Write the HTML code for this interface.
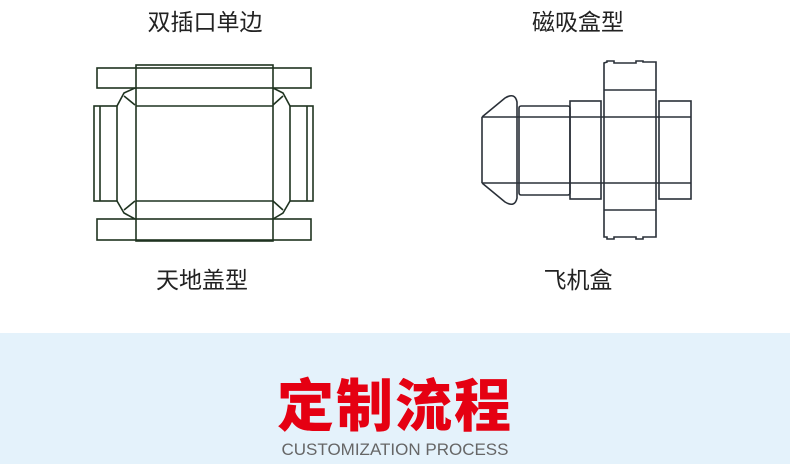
<!DOCTYPE html>
<html><head><meta charset="utf-8"><style>
html,body{margin:0;padding:0}
body{width:790px;height:464px;position:relative;background:#fff;overflow:hidden;font-family:"Liberation Sans","Noto Sans CJK SC",sans-serif}
.l{position:absolute;font-size:23px;color:#222;text-align:center;width:240px;line-height:26px}
.band{position:absolute;left:0;top:333px;width:790px;height:131px;background:#e4f2fb}
.t{position:absolute;left:0;width:790px;text-align:center;top:369px;font-size:57px;font-weight:900;color:#e50012;line-height:66px;letter-spacing:2px;font-family:"Noto Sans CJK SC",sans-serif}
.s{position:absolute;left:0;width:790px;text-align:center;top:440px;font-size:17px;color:#666;line-height:20px}
svg{position:absolute;left:0;top:0}
</style></head><body>
<div class="l" style="left:85px;top:9px">双插口单边</div>
<div class="l" style="left:458px;top:9px">磁吸盒型</div>
<div class="l" style="left:82px;top:267px">天地盖型</div>
<div class="l" style="left:458px;top:267px">飞机盒</div>
<svg width="790" height="333" fill="none" stroke-width="1.6">
<g stroke="#1f3320">
<rect x="97" y="68" width="214" height="20"/>
<rect x="97" y="219" width="214" height="21"/>
<rect x="136" y="65" width="137" height="176"/>
<line x1="136" y1="106" x2="273" y2="106"/>
<line x1="136" y1="201" x2="273" y2="201"/>
<rect x="94" y="106" width="23" height="95"/>
<line x1="100" y1="106" x2="100" y2="201"/>
<rect x="290" y="106" width="23" height="95"/>
<line x1="307" y1="106" x2="307" y2="201"/>
<polyline points="117,106 124,93 135,88"/><line x1="124" y1="96" x2="135" y2="105"/>
<polyline points="290,106 283,93 273,88"/><line x1="283" y1="96" x2="273" y2="105"/>
<polyline points="117,201 124,213 135,219"/><line x1="124" y1="210" x2="135" y2="201"/>
<polyline points="290,201 283,213 273,219"/><line x1="283" y1="210" x2="273" y2="201"/>
</g>
<g stroke="#2a3038">
<line x1="482" y1="117" x2="691" y2="117"/>
<line x1="482" y1="183" x2="691" y2="183"/>
<line x1="482" y1="117" x2="482" y2="183"/>
<line x1="517" y1="117" x2="517" y2="183"/>
<path d="M482,117 L505,98 Q515,92 517,102 L517,117"/>
<path d="M482,183 L505,202 Q515,208 517,198 L517,183"/>
<rect x="519" y="106" width="51" height="89" rx="2"/>
<rect x="570" y="101" width="31" height="98"/>
<path d="M604,237 L604,63 L607,62 L607,61 L614,61 L614,63 L636,63 L636,61 L643,61 L643,62 L656,62 L656,237 L643,237 L643,239 L636,239 L636,237 L614,237 L614,239 L607,239 L607,237 Z"/>
<line x1="604" y1="90" x2="656" y2="90"/>
<line x1="604" y1="210" x2="656" y2="210"/>
<rect x="659" y="101" width="32" height="98"/>
</g>
</svg>
<div class="band"></div>
<div class="t">定制流程</div>
<div class="s">CUSTOMIZATION PROCESS</div>
</body></html>
